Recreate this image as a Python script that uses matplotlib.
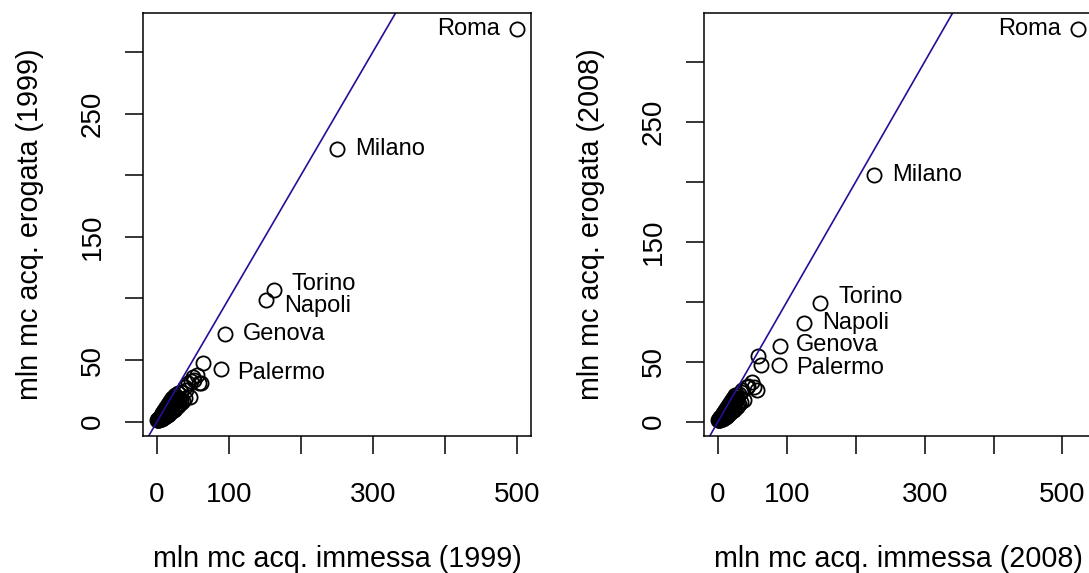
import numpy as np
import matplotlib.pyplot as plt

plt.rcParams['font.family'] = ['Liberation Sans', 'DejaVu Sans']

# acqua immessa (x) ed erogata (y), milioni di mc - 1999
citta_99 = ['Roma', 'Milano', 'Torino', 'Napoli', 'Genova', 'Palermo']
imm_99 = [500, 250.5, 162, 151, 94, 88.6]
ero_99 = [319, 221, 106.5, 98.4, 71.5, 43]

altri_imm_99 = [0.5, 1, 1.5, 2, 2.5, 3, 3.5, 4, 4.5, 5, 5.5, 6, 6.5, 7, 7.5, 8,
                8.5, 9, 10, 10.5, 11, 12, 12.5, 13, 14, 14.5, 15, 16, 17, 18,
                18.5, 19, 20, 21, 22, 23, 24, 25, 26, 27, 28.7, 30, 32.8, 34,
                38.4, 40, 42.6, 45.4, 47, 49.5, 52, 55, 58, 60.7, 63.5,
                3, 5, 7, 9, 11, 13, 15, 17, 19, 21, 23, 25, 27, 29, 31, 33,
                36, 39,
                2, 4, 6, 8, 10, 12, 14, 16, 18, 20, 22, 24, 26, 28, 1, 3.5,
                6.5, 9.5, 12.5, 15.5, 18.5, 21.5, 24.5]
altri_ero_99 = [1.1, 1.2, 1.5, 1.8, 2, 2.5, 2.8, 3.5, 3.2, 4, 4.5, 4.2, 5.5, 5,
                6.5, 6, 7, 6.5, 8, 7, 9, 8.5, 10, 9.5, 11, 10, 12, 11, 13, 12,
                14.5, 13, 15, 14, 17, 15, 18, 17, 20, 18, 23.3, 19, 17.6, 24,
                28.2, 26, 31.4, 20, 33, 36.3, 34, 38, 31, 31.4, 47.6,
                1.2, 1.8, 2.5, 3.2, 4, 5, 5.5, 6.5, 7.5, 8.5, 9.5, 10.5, 12,
                13, 14, 15.5, 17, 19,
                1.3, 2.2, 3.6, 4.8, 6.2, 7.4, 8.8, 10.2, 11.5, 12.8, 14.2,
                15.6, 17.2, 18.5, 2.5, 3.8, 6.8, 9.2, 11.8, 14.2, 16.5, 19,
                21.5]

# 2008
citta_08 = ['Roma', 'Milano', 'Torino', 'Napoli', 'Genova', 'Palermo']
imm_08 = [522, 227, 148.7, 125.5, 89.3, 87.8]
ero_08 = [327.5, 205.6, 98.9, 82.2, 63.1, 47.2]

altri_imm_08 = [0.5, 1, 1.5, 2, 2.5, 3, 3.5, 4, 4.5, 5, 5.5, 6, 6.5, 7, 7.5, 8,
                8.5, 9, 10, 10.5, 11, 12, 12.5, 13, 14, 14.5, 15, 16, 17, 18,
                18.5, 19, 20, 21, 22, 23, 24, 25, 26, 28, 30, 32.8, 35, 37.1,
                41.4, 44, 48.7, 52, 55.9, 57.4, 61.7,
                3, 5, 7, 9, 11, 13, 15, 17, 19, 21, 23, 25, 27, 29, 31, 34,
                2, 4, 6, 8, 10, 12, 14, 16, 18, 20, 22, 24, 26, 28, 1, 3.5,
                6.5, 9.5, 12.5, 15.5, 18.5, 21.5, 24.5]
altri_ero_08 = [1.1, 1.3, 1.5, 1.8, 2.2, 2.5, 3, 3.4, 3.2, 4, 4.5, 4.3, 5.5, 5,
                6.5, 6, 7, 6.5, 8, 7.5, 9, 8.5, 10, 9.5, 11, 10.5, 12, 11.5, 13,
                12.5, 15, 13.5, 16, 15, 18, 16, 19, 18, 21, 20, 23, 24.8, 26,
                18.1, 28.9, 30, 33.1, 29, 26.4, 54.8, 47.3,
                1.2, 1.8, 2.6, 3.3, 4.2, 5, 5.8, 6.8, 7.8, 8.8, 9.8, 11, 12.2,
                13.5, 14.5, 16,
                1.3, 2.3, 3.8, 5, 6.4, 7.6, 9, 10.4, 11.8, 13, 14.4, 15.8,
                17.4, 18.8, 2.5, 4, 7, 9.5, 12, 14.5, 17, 19.5, 22]

# posizione delle etichette in punti rispetto al cerchio
off_99 = {'Roma': (-12, 0, 'right'), 'Milano': (13, 0, 'left'),
          'Torino': (13, 5, 'left'), 'Napoli': (13, -4, 'left'),
          'Genova': (13, 0, 'left'), 'Palermo': (12, -3, 'left')}
off_08 = {'Roma': (-12, 0, 'right'), 'Milano': (13, 0, 'left'),
          'Torino': (13, 4, 'left'), 'Napoli': (13, 0, 'left'),
          'Genova': (12, 1, 'left'), 'Palermo': (13, -2, 'left')}


def pannello(ax, xs, ys, nomi, ax_, ay_, offs, xlab, ylab):
    x = np.array(list(xs) + list(ax_))
    y = np.array(list(ys) + list(ay_))
    ax.plot(x, y, 'o', mfc='none', mec='black', ms=10.2, mew=1.3)
    # range come in R: +4% per lato
    rx = x.max() - x.min()
    ry = y.max() - y.min()
    ax.set_xlim(x.min() - 0.04 * rx, x.max() + 0.04 * rx)
    ax.set_ylim(y.min() - 0.04 * ry, y.max() + 0.04 * ry)
    ax.axline((0, 0), slope=1, color='#2B0B99', lw=1.2)
    for n, xi, yi in zip(nomi, xs, ys):
        dx, dy, ha = offs[n]
        ax.annotate(n, (xi, yi), xytext=(dx, dy), textcoords='offset points',
                    ha=ha, va='center', fontsize=17)
    ax.set_xticks([0, 100, 200, 300, 400, 500])
    ax.set_xticklabels(['0', '100', '', '300', '', '500'])
    ax.set_yticks([0, 50, 100, 150, 200, 250, 300])
    ax.set_yticklabels(['0', '50', '', '150', '', '250', ''])
    ax.tick_params(length=13, width=1.1, labelsize=20)
    ax.tick_params(axis='x', pad=20)
    ax.tick_params(axis='y', pad=14)
    for t in ax.get_yticklabels():
        t.set_rotation(90)
        t.set_va('center')
    for s in ax.spines.values():
        s.set_linewidth(1.1)
    ax.set_xlabel(xlab, fontsize=20.7)
    ax.set_ylabel(ylab, fontsize=20.7)
    ax.xaxis.set_label_coords(0.5, -0.29)
    ax.xaxis.label.set_va('center')
    ax.yaxis.set_label_coords(-0.29, 0.5)
    ax.yaxis.label.set_va('center')


fig = plt.figure(figsize=(10.89, 5.73), dpi=100)
ax1 = fig.add_axes([143 / 1089, 137 / 573, 388 / 1089, 423 / 573])
ax2 = fig.add_axes([704 / 1089, 137 / 573, 388 / 1089, 423 / 573])

pannello(ax1, imm_99, ero_99, citta_99, altri_imm_99, altri_ero_99, off_99,
         'mln mc acq. immessa (1999)', 'mln mc acq. erogata (1999)')
pannello(ax2, imm_08, ero_08, citta_08, altri_imm_08, altri_ero_08, off_08,
         'mln mc acq. immessa (2008)', 'mln mc acq. erogata (2008)')

fig.savefig('out.png', dpi=100)
